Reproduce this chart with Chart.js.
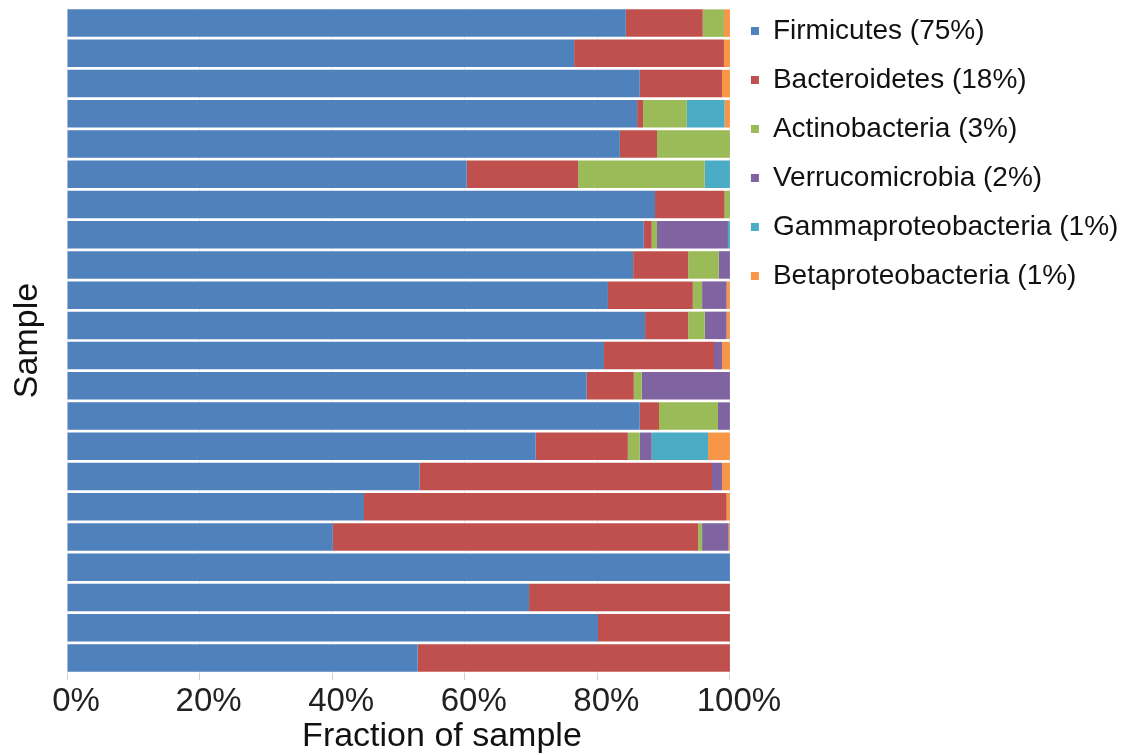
<!DOCTYPE html>
<html>
<head>
<meta charset="utf-8">
<script src="https://cdn.jsdelivr.net/npm/chart.js@4.4.1/dist/chart.umd.min.js"></script>
<style>
  html, body { margin: 0; padding: 0; background: #fff; }
  #wrap { width: 1138px; height: 755px; position: relative; }
</style>
</head>
<body>
<div id="wrap"><canvas id="grafico"></canvas></div>
<script>
// one entry per sample, top to bottom
var samples = ['1','2','3','4','5','6','7','8','9','10','11','12','13','14','15','16','17','18','19','20','21','22'];

var firmicutes       = [84.3, 76.5, 86.4, 86.0, 83.4, 60.3, 88.7, 87.0, 85.4, 81.6, 87.2, 81.0, 78.4, 86.4, 70.7, 53.2, 44.8, 40.1, 100, 69.7, 80.1, 52.9];
var bacteroidetes    = [11.6, 22.6, 12.4, 0.9, 5.6, 16.8, 10.5, 1.2, 8.3, 12.8, 6.5, 16.6, 7.1, 2.9, 13.9, 44.1, 54.7, 55.1, 0, 30.3, 19.9, 47.1];
var actinobacteria   = [3.2, 0, 0, 6.6, 11.0, 19.1, 0.8, 0.8, 4.6, 1.4, 2.5, 0, 1.2, 8.9, 1.8, 0, 0, 0.6, 0, 0, 0, 0];
var verrucomicrobia  = [0, 0, 0, 0, 0, 0, 0, 10.7, 1.7, 3.7, 3.3, 1.2, 13.3, 1.8, 1.8, 1.5, 0, 4.0, 0, 0, 0, 0];
var gammaproteo      = [0, 0, 0, 5.7, 0, 3.8, 0, 0.3, 0, 0, 0, 0, 0, 0, 8.5, 0, 0, 0, 0, 0, 0, 0];
var betaproteo       = [0.9, 0.9, 1.2, 0.8, 0, 0, 0, 0, 0, 0.5, 0.5, 1.2, 0, 0, 3.3, 1.2, 0.5, 0.2, 0, 0, 0, 0];

var xTicks = [0, 20, 40, 60, 80, 100];

Chart.defaults.font.family = '"Liberation Sans", Arial, sans-serif';
Chart.defaults.color = '#000';

function serie(label, data, color) {
    return {
        label: label,
        data: data,
        backgroundColor: color,
        borderWidth: 0,
        categoryPercentage: 1.0,
        barPercentage: 0.91
    };
}

// x axis title sits off-centre in the original, so it is drawn here
var tituloX = {
    id: 'tituloX',
    afterDraw: function (chart) {
        var ctx = chart.ctx, a = chart.chartArea;
        ctx.save();
        ctx.font = '34px "Liberation Sans", Arial, sans-serif';
        ctx.fillStyle = '#111';
        ctx.textAlign = 'center';
        ctx.textBaseline = 'middle';
        ctx.fillText('Fraction of sample', a.left + (a.right - a.left) * 0.5656, a.bottom + 64);
        ctx.restore();
    }
};

var ctx = document.getElementById('grafico').getContext('2d');
var myChart = new Chart(ctx, {
    type: 'bar',
    data: {
        labels: samples,
        datasets: [
            serie('Firmicutes (75%)', firmicutes, '#4F81BD'),
            serie('Bacteroidetes (18%)', bacteroidetes, '#C0504D'),
            serie('Actinobacteria (3%)', actinobacteria, '#9BBB59'),
            serie('Verrucomicrobia (2%)', verrucomicrobia, '#8064A2'),
            serie('Gammaproteobacteria (1%)', gammaproteo, '#4BACC6'),
            serie('Betaproteobacteria (1%)', betaproteo, '#F79646')
        ]
    },
    plugins: [tituloX],
    options: {
        indexAxis: 'y',
        responsive: true,
        maintainAspectRatio: false,
        animation: false,
        layout: { padding: { top: -4, right: 9.6, bottom: 0, left: 0 } },
        plugins: {
            title: { display: true, text: '', font: { size: 0 }, padding: { top: 12, bottom: 0 } },
            tooltip: { enabled: false },
            legend: {
                position: 'right',
                align: 'start',
                maxWidth: 420,
                labels: {
                    boxWidth: 8,
                    boxHeight: 8,
                    padding: 21,
                    color: '#111',
                    font: { size: 28 }
                }
            }
        },
        scales: {
            x: {
                stacked: true,
                min: 0,
                max: 100,
                afterBuildTicks: function (scale) {
                    scale.ticks = xTicks.map(function (v) { return { value: v }; });
                },
                afterFit: function (scale) { scale.height = 82; },
                ticks: {
                    font: { size: 33 },
                    color: '#222',
                    padding: 2,
                    labelOffset: 9,
                    maxRotation: 0,
                    callback: function (v) { return v + '%'; }
                },
                grid: {
                    color: '#f0f0f0',
                    tickColor: '#cfcfcf',
                    tickLength: 7
                },
                border: { display: false }
            },
            y: {
                stacked: true,
                afterFit: function (scale) { scale.width = 67; },
                ticks: { display: false },
                grid: { display: false },
                border: { display: false },
                title: {
                    display: true,
                    text: 'Sample',
                    color: '#111',
                    font: { size: 34 },
                    padding: { top: 7, bottom: 0 }
                }
            }
        }
    }
});
</script>
</body>
</html>
